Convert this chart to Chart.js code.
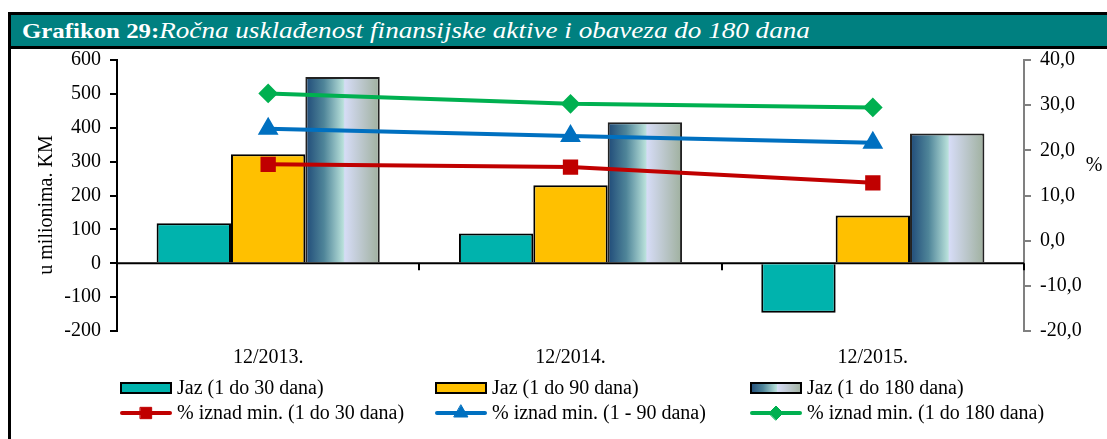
<!DOCTYPE html>
<html>
<head>
<meta charset="utf-8">
<script src="https://cdn.jsdelivr.net/npm/chart.js@4"></script>
<style>
  html, body { margin: 0; padding: 0; background: #fff; }
  body { width: 1107px; height: 439px; position: relative; overflow: hidden; font-family: 'Liberation Serif', 'Times New Roman', serif; }
  #frame { position: absolute; left: 8px; top: 12px; width: 1110px; height: 440px; border-left: 3px solid #000; border-top: 3px solid #000; }
  #title { height: 31px; background: #008080; border-bottom: 3px solid #000; color: #fff; font-size: 22px; line-height: 32px; padding-left: 11px; white-space: nowrap; }
  #title span { display: inline-block; transform: scaleX(1.2); transform-origin: left center; }
  #title b { font-size: 20.7px; }
  #title i { font-size: 22.6px; }
  #chartBox { position: absolute; left: 0; top: 0; width: 1107px; height: 439px; }
</style>
</head>
<body>
<div id="frame"><div id="title"><span><b>Grafikon 29:</b><i>Ročna usklađenost finansijske aktive i obaveza do 180 dana</i></span></div></div>
<div id="chartBox"><canvas id="gapChart" width="1107" height="439"></canvas></div>
<script>
const categories = ['12/2013.', '12/2014.', '12/2015.'];

// Jaz, u milionima KM
const gap30 = [118, 88, -146];
const gap90 = [322, 230, 141];
const gap180 = [550, 416, 383];

// % iznad minimuma
const pct30 = [16.9, 16.3, 12.8];
const pct90 = [24.8, 23.2, 21.7];
const pct180 = [32.6, 30.3, 29.5];

const leftMin = -200, leftMax = 600, leftStep = 100;
const rightMin = -20, rightMax = 40, rightStep = 10;

const leftTitle = 'u milionima. KM';
const rightTitle = '%';

const FONT = "'Liberation Serif', 'Times New Roman', serif";
const FSIZE = 20;
const catPct = 0.738;

const ctx = document.getElementById('gapChart').getContext('2d');

function addGradStops(g) {
  g.addColorStop(0, '#1f4a78');
  g.addColorStop(0.25, '#4f8599');
  g.addColorStop(0.51, '#b8e0da');
  g.addColorStop(0.53, '#d6dcf6');
  g.addColorStop(1, '#9fb09e');
  return g;
}

function gradientBar(context) {
  const chart = context.chart;
  const xs = chart.scales.x;
  if (!xs || context.dataIndex == null) return '#8fb0b8';
  const c = xs.getPixelForValue(context.dataIndex);
  const groupW = (xs.width / categories.length) * catPct;
  const left = c + groupW / 6;
  const right = c + groupW / 2;
  if (!Number.isFinite(left) || !Number.isFinite(right) || right <= left) return '#8fb0b8';
  return addGradStops(chart.ctx.createLinearGradient(left, 0, right, 0));
}

const axisTitles = {
  id: 'axisTitles',
  afterDraw(chart) {
    const c = chart.ctx;
    const area = chart.chartArea;
    c.save();
    c.fillStyle = '#000';
    c.font = FSIZE + 'px ' + FONT;
    c.textAlign = 'center';
    c.textBaseline = 'middle';
    c.translate(47, 205);
    c.rotate(-Math.PI / 2);
    c.fillText(leftTitle, 0, 0);
    c.restore();
    c.save();
    c.font = FSIZE + 'px ' + FONT;
    c.textAlign = 'center';
    c.textBaseline = 'middle';
    c.fillStyle = '#000';
    c.fillText(rightTitle, area.right + 70, 166);
    c.restore();
  }
};

const zeroLine = {
  id: 'zeroLine',
  beforeDatasetsDraw(chart) {
    const c = chart.ctx;
    const xs = chart.scales.x;
    const y0 = chart.scales.y.getPixelForValue(0);
    c.save();
    c.strokeStyle = '#000';
    c.lineWidth = 2;
    c.beginPath();
    c.moveTo(xs.left, y0);
    c.lineTo(xs.right, y0);
    const step = xs.width / categories.length;
    for (let k = 1; k <= categories.length; k++) {
      const x = Math.round(xs.left + k * step);
      c.moveTo(x, y0);
      c.lineTo(x, y0 + 7);
    }
    c.stroke();
    c.restore();
  }
};

const customLegend = {
  id: 'customLegend',
  afterDraw(chart) {
    const c = chart.ctx;
    const ds = chart.data.datasets;
    const colX = [120, 435, 750];
    const rowY = [388, 413];
    c.save();
    c.font = FSIZE + 'px ' + FONT;
    c.textBaseline = 'middle';
    c.textAlign = 'left';
    ds.forEach((d, i) => {
      const col = i % 3, row = Math.floor(i / 3);
      const x = colX[col], y = rowY[row];
      if (d.type === 'line') {
        c.strokeStyle = d.borderColor;
        c.lineWidth = 4;
        c.lineCap = 'round';
        c.beginPath();
        c.moveTo(x + 2, y);
        c.lineTo(x + 50, y);
        c.stroke();
        c.fillStyle = d.borderColor;
        c.lineWidth = 1;
        Chart.helpers.drawPoint(c, {
          pointStyle: d.pointStyle, radius: d.pointRadius, rotation: 0, borderWidth: 1
        }, x + 26, y);
      } else {
        let fill = d.backgroundColor;
        if (typeof fill === 'function') {
          fill = addGradStops(c.createLinearGradient(x, 0, x + 52, 0));
        }
        c.fillStyle = fill;
        c.fillRect(x + 1, y - 5, 50, 10);
        c.strokeStyle = '#000';
        c.lineWidth = 2;
        c.strokeRect(x + 1, y - 5, 50, 10);
      }
      c.fillStyle = '#000';
      c.fillText(d.label, x + 57, y + 1);
    });
    c.restore();
  }
};

const data = {
  labels: categories,
  datasets: [
    {
      type: 'bar',
      label: 'Jaz (1 do 30 dana)',
      data: gap30,
      backgroundColor: '#00b3ad',
      borderColor: '#000',
      borderWidth: 2,
      yAxisID: 'y',
      order: 1,
    },
    {
      type: 'bar',
      label: 'Jaz (1 do 90 dana)',
      data: gap90,
      backgroundColor: '#ffc000',
      borderColor: '#000',
      borderWidth: 2,
      yAxisID: 'y',
      order: 1,
    },
    {
      type: 'bar',
      label: 'Jaz (1 do 180 dana)',
      data: gap180,
      backgroundColor: gradientBar,
      borderColor: '#222',
      borderWidth: 2,
      yAxisID: 'y',
      order: 1,
    },
    {
      type: 'line',
      label: '% iznad min. (1 do 30 dana)',
      data: pct30,
      borderColor: '#c00000',
      backgroundColor: '#c00000',
      borderWidth: 4,
      pointStyle: 'rect',
      pointRadius: 8,
      yAxisID: 'y1',
      order: 0,
    },
    {
      type: 'line',
      label: '% iznad min. (1 - 90 dana)',
      data: pct90,
      borderColor: '#0070c0',
      backgroundColor: '#0070c0',
      borderWidth: 4,
      pointStyle: 'triangle',
      pointRadius: 8,
      yAxisID: 'y1',
      order: 0,
    },
    {
      type: 'line',
      label: '% iznad min. (1 do 180 dana)',
      data: pct180,
      borderColor: '#00b050',
      backgroundColor: '#00b050',
      borderWidth: 4,
      pointStyle: 'rectRot',
      pointRadius: 7,
      yAxisID: 'y1',
      order: 0,
    },
  ],
};

const options = {
  responsive: false,
  animation: false,
  layout: { padding: { top: 60, bottom: 0, left: 0, right: 0 } },
  datasets: {
    bar: { categoryPercentage: catPct, barPercentage: 1 },
    line: { tension: 0 },
  },
  scales: {
    x: {
      offset: true,
      grid: { display: false },
      border: { display: false },
      ticks: { color: '#000', font: { family: FONT, size: FSIZE }, padding: 7 },
      afterFit(scale) { scale.height = 108; },
    },
    y: {
      position: 'left',
      min: leftMin,
      max: leftMax,
      ticks: { stepSize: leftStep, color: '#000', font: { family: FONT, size: FSIZE }, padding: 9 },
      grid: { drawOnChartArea: false, color: '#000', tickLength: 7, lineWidth: 2 },
      border: { color: '#000', width: 2 },
      afterFit(scale) { scale.width = 117; },
    },
    y1: {
      position: 'right',
      min: rightMin,
      max: rightMax,
      ticks: {
        stepSize: rightStep,
        color: '#000',
        font: { family: FONT, size: FSIZE },
        padding: 9,
        callback: (v) => v.toFixed(1).replace('.', ','),
      },
      grid: { drawOnChartArea: false, color: '#808080', tickLength: 7, lineWidth: 2 },
      border: { color: '#808080', width: 2 },
      afterFit(scale) { scale.width = 83; },
    },
  },
  plugins: {
    legend: { display: false },
    tooltip: { enabled: false },
  },
};

new Chart(ctx, {
  type: 'bar',
  data: data,
  options: options,
  plugins: [zeroLine, axisTitles, customLegend],
});
</script>
</body>
</html>
